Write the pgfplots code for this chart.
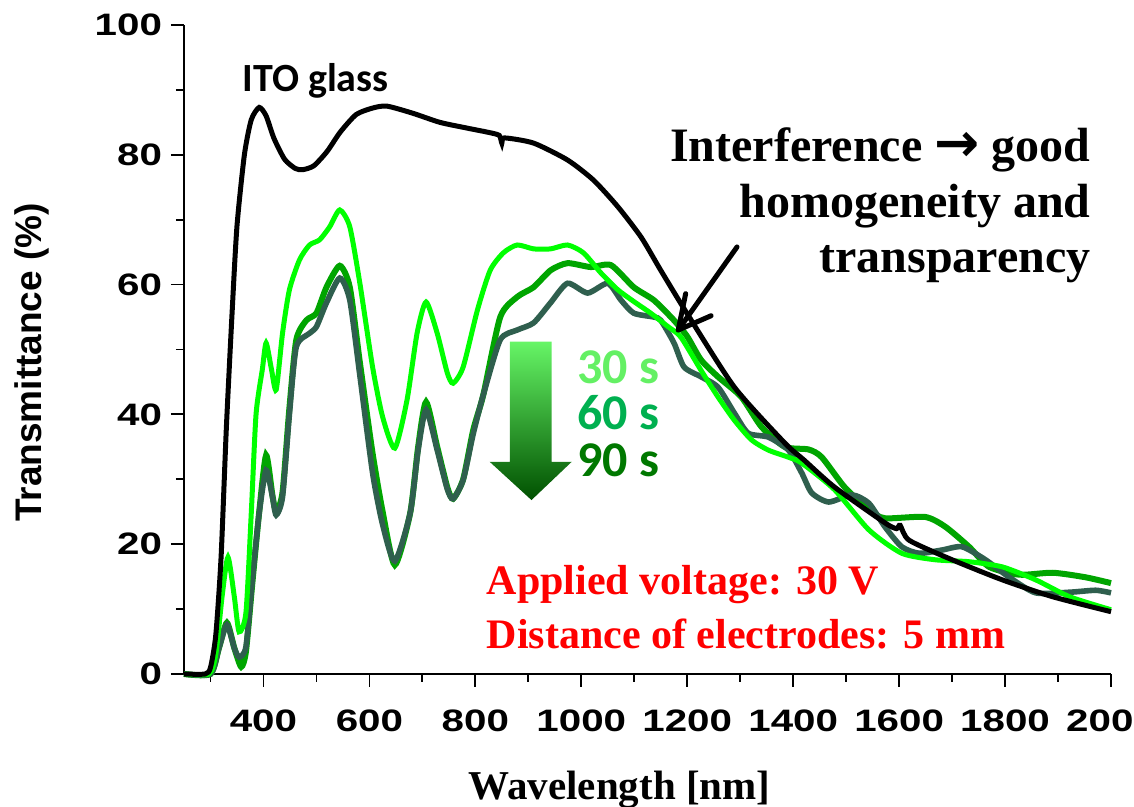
\documentclass[border=0pt]{standalone}
\usepackage{fontspec}
\setmainfont{Liberation Serif}
\newfontfamily\arialf{Liberation Sans}
\newfontfamily\tickf[FakeStretch=1.3]{Liberation Sans}
\newfontfamily\calf{Carlito}
\newfontfamily\djv{DejaVu Sans}
\usepackage{pgfplots}
\pgfplotsset{compat=1.18}
\usetikzlibrary{arrows.meta}
\definecolor{bgreen}{RGB}{0,255,0}
\definecolor{mgreen}{RGB}{0,165,0}
\definecolor{dslate}{RGB}{47,95,78}
\definecolor{lab30}{RGB}{100,240,100}
\definecolor{lab60}{RGB}{0,176,80}
\definecolor{lab90}{RGB}{0,120,0}
\definecolor{arrtop}{RGB}{102,245,102}
\definecolor{arrbot}{RGB}{0,80,0}

\pgfplotstableread{
x y
250 0
290 0
300 1
310 6
320 18
330 38
341 56
350 69
364 80
377 85.4
392 87.3
405 86
420 82.5
440 79.3
460 77.9
474 77.7
495 78.3
520 80.5
545 83.5
575 86.2
606 87.2
633 87.5
682 86.4
733 85
785 84.1
822 83.5
845 83
850 81.8
855 82.6
910 81.8
974 79.2
1023 76.1
1069 72
1113 67.3
1150 62.2
1200 55.5
1289 44.2
1384 35.6
1420 33
1478 28.8
1573 23.3
1595 22.4
1602 22.9
1619 20.6
1700 17.6
1795 14.5
1890 11.9
2000 9.6
}\ito

\pgfplotstableread{
x y
250 0
297 0
310 3
322 12
333 18
345 11.9
354 6.5
367 9.5
377 24.8
386 40
398 47
405 51
415 47
424 43.8
436 52.5
449 59.2
468 63.8
487 66.1
506 66.9
525 68.9
544 71.5
563 68.9
582 60.2
606 47.3
625 39.6
648 34.8
671 42.2
690 52.5
707 57.3
728 52.5
747 46.4
758 44.8
777 47.3
804 56.1
828 62.2
853 64.9
879 66.1
910 65.5
942 65.5
974 66.1
1004 64.9
1037 61.8
1069 59.2
1099 57.4
1131 55.6
1164 53.5
1188 51.9
1226 46.8
1258 42.7
1289 39.1
1321 36.1
1353 34.5
1391 33.4
1416 32.5
1478 28.4
1543 22.2
1605 18.6
1668 17.6
1732 17.3
1795 16.5
1858 14.5
1922 11.9
2000 9.9
}\bright

\pgfplotstableread{
x y
250 0
300 0
316 4
331 7.9
345 4
358 1.1
367 3.5
379 14
392 25
405 33.7
417 27.5
424 25
436 28
449 41
462 51.5
481 54.5
500 55.6
519 59.6
544 62.9
563 59.6
582 48
606 34
625 25
648 16.8
677 24.8
692 35
707 41.9
728 35
747 28.8
758 27
777 30
796 37.6
815 43
847 55
879 58.1
910 59.6
942 62.2
974 63.3
1018 62.7
1056 63
1099 59.6
1137 57.6
1175 54.5
1200 52
1226 48.4
1258 45.8
1302 42.7
1340 38.1
1384 35
1429 34.6
1454 33.4
1497 28.8
1543 25.3
1573 24
1649 24.2
1687 22.7
1732 19.6
1770 16.5
1827 15.3
1890 15.6
1952 14.9
2000 14
}\medium

\pgfplotstableread{
x y
250 0
300 0
316 4
331 7.6
345 4
354 2.6
367 4.2
379 14.5
392 24.8
405 31.4
417 27.3
424 24.5
436 27.3
449 40
462 50.4
487 52.5
500 53.5
519 57.2
544 61
563 57.6
582 46
606 31
625 23
648 17.4
677 24.8
692 34.5
707 40.7
728 34.5
747 28.5
758 27
777 29.9
796 37
815 43
847 51.5
879 53
910 54.1
942 57.2
974 60.2
1012 58.7
1050 60.2
1075 57.6
1099 55.6
1137 55
1150 54.5
1175 51
1194 47.3
1226 45.8
1258 44.2
1289 40.2
1315 37.1
1353 36.5
1391 34.5
1416 31
1435 27.9
1467 26.5
1511 27.6
1543 26.3
1573 22.7
1605 19.6
1638 18.6
1681 19.1
1719 19.6
1763 17.6
1808 14.9
1858 12.5
1922 12.6
1971 12.9
2000 12.5
}\dark

\begin{document}
\begin{tikzpicture}
\path[use as bounding box] (0,0) rectangle (567pt,403.5pt);
\begin{axis}[
  at={(92pt,66.5pt)}, anchor=south west,
  width=463.5pt, height=324.5pt, scale only axis,
  xmin=250, xmax=2000, ymin=0, ymax=100,
  axis x line=bottom, axis y line=left,
  axis line style={-, line width=1pt},
  clip=false,
  tick align=outside,
  major tick length=6.5pt, minor tick length=4pt,
  every tick/.style={black, line width=0.9pt},
  xtick={400,600,...,2000},
  minor xtick={300,500,...,1900},
  ytick={0,20,...,100},
  minor ytick={10,30,...,90},
  /pgf/number format/assume math mode=true,
  /pgf/number format/1000 sep={},
  ticklabel style={font=\tickf\bfseries\fontsize{15.5}{18}\selectfont},
  xticklabel style={yshift=-8pt},
  yticklabel style={xshift=-1pt},
]
\addplot[mgreen, line width=3pt, smooth, tension=0.4] table {\medium};
\addplot[dslate, line width=2.8pt, smooth, tension=0.4] table {\dark};
\addplot[bgreen, line width=2.5pt, smooth, tension=0.4] table {\bright};
\addplot[black, line width=2.5pt, smooth, tension=0.4] table {\ito};

% gradient arrow
\shade[top color=arrtop, bottom color=arrbot]
  (axis cs:865,51.2) -- (axis cs:944,51.2) -- (axis cs:944,32.7) -- (axis cs:982,32.7)
  -- (axis cs:906,26.8) -- (axis cs:827,32.7) -- (axis cs:865,32.7) -- cycle;
\node[anchor=base west, inner sep=0pt, text=lab30, font=\calf\bfseries\fontsize{25}{30}\selectfont] at (axis cs:992,44.8) {30 s};
\node[anchor=base west, inner sep=0pt, text=lab60, font=\calf\bfseries\fontsize{25}{30}\selectfont] at (axis cs:992,37.6) {60 s};
\node[anchor=base west, inner sep=0pt, text=lab90, font=\calf\bfseries\fontsize{25}{30}\selectfont] at (axis cs:992,30.4) {90 s};

\node[anchor=base west, inner sep=0pt, font=\calf\bfseries\fontsize{20}{24}\selectfont] at (axis cs:360,89.7) {ITO glass};

\node[anchor=base east, inner sep=0pt, font=\bfseries\fontsize{24}{29}\selectfont] at (axis cs:1962,78.9) {Interference {\djv\bfseries\fontsize{27}{30}\selectfont →} good};
\node[anchor=base east, inner sep=0pt, font=\bfseries\fontsize{24}{29}\selectfont] at (axis cs:1962,70.3) {homogeneity and};
\node[anchor=base east, inner sep=0pt, font=\bfseries\fontsize{24}{29}\selectfont] at (axis cs:1962,61.8) {transparency};

\draw[line width=2.5pt, line cap=round, line join=round] (axis cs:1294,65.8) -- (axis cs:1183,53);
\draw[line width=2.5pt, line cap=round, line join=round] (axis cs:1197,58.6) -- (axis cs:1183,53) -- (axis cs:1245,55.2);

\node[anchor=base west, inner sep=0pt, text=red, font=\bfseries\fontsize{21}{25}\selectfont] at (axis cs:821,12.2) {Applied voltage: 30 V};
\node[anchor=base west, inner sep=0pt, text=red, font=\bfseries\fontsize{21}{25}\selectfont] at (axis cs:821,4.0) {Distance of electrodes: 5 mm};

\node[rotate=90, anchor=center, inner sep=0pt, font=\arialf\bfseries\fontsize{18.5}{22}\selectfont] at ([xshift=-76pt]rel axis cs:0,0.48) {Transmittance (\%)};
\node[anchor=base, inner sep=0pt, font=\bfseries\fontsize{20.5}{24}\selectfont] at ([xshift=-14pt, yshift=-63pt]rel axis cs:0.5,0) {Wavelength [nm]};
\end{axis}
\end{tikzpicture}
\end{document}
